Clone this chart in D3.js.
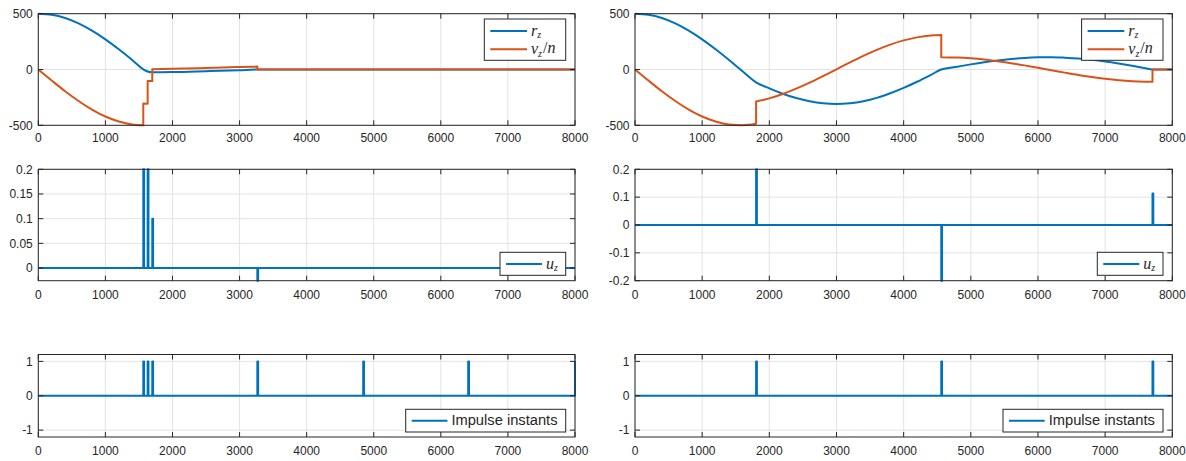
<!DOCTYPE html>
<html>
<head>
<meta charset="utf-8">
<script src="https://cdn.jsdelivr.net/npm/d3@7"></script>
<style>
  body { margin: 0; background: #fff; }
  text { font-family: "Liberation Sans", Arial, sans-serif; fill: #262626; }
</style>
</head>
<body>
<div id="chart"></div>
<script>
/**
 * CONSTANTS AND GLOBALS
 * */
const width = 1186,
  height = 461;

const blue = "#0072BD",
  orange = "#D95319",
  axisColor = "#262626",
  gridColor = "#e3e3e3";

const xTicks = [0, 1000, 2000, 3000, 4000, 5000, 6000, 7000, 8000];

/**
 * DATA
 * */
// left column: position r_z (continuous, with kinks)
const rzLeft = [[0, 500], [200, 490], [400, 461], [600, 413], [800, 348], [1000, 270], [1200, 181],
  [1400, 85], [1565, 2], [1630, -18], [1699, -25], [2000, -23], [2500, -15], [3000, -6], [3265, 0], [8000, 0]];

// left column: v_z/n, segments split at the jumps
const vzLeft = [
  [[0, 0], [200, -99], [400, -195], [600, -282], [800, -359], [1000, -421], [1200, -466], [1400, -493], [1565, -500]],
  [[1565, -305], [1630, -306]],
  [[1630, -103], [1699, -104]],
  [[1699, 3], [2000, 7], [2500, 14], [3000, 22], [3265, 26]],
  [[3265, 0], [8000, 0]]
];

// right column: r_z
const rzRight = [[0, 500], [200, 490], [400, 461], [600, 413], [800, 348], [1000, 270], [1200, 181],
  [1400, 85], [1600, -15], [1803, -115], [2000, -169], [2200, -217], [2400, -256], [2600, -285],
  [2800, -303], [3000, -309], [3200, -302], [3400, -284], [3600, -254], [3800, -213], [4000, -165],
  [4200, -110], [4400, -50], [4560, 0], [4800, 25], [5000, 46], [5200, 65], [5400, 81], [5600, 94],
  [5800, 104], [6000, 109], [6200, 110], [6400, 106], [6600, 99], [6800, 87], [7000, 72], [7200, 54],
  [7400, 34], [7600, 12], [7705, 0], [8000, 0]];

// right column: v_z/n
const vzRight = [
  [[0, 0], [200, -99], [400, -195], [600, -282], [800, -359], [1000, -421], [1200, -466], [1400, -493],
    [1600, -500], [1803, -487]],
  [[1803, -287], [2000, -259], [2200, -220], [2400, -172], [2600, -118], [2800, -59], [3000, 2],
    [3200, 63], [3400, 122], [3600, 176], [3800, 223], [4000, 261], [4200, 288], [4400, 305], [4560, 310]],
  [[4560, 110], [4800, 107], [5000, 100], [5200, 89], [5400, 74], [5600, 57], [5800, 37], [6000, 15],
    [6200, -6], [6400, -28], [6600, -49], [6800, -67], [7000, -83], [7200, -96], [7400, -105],
    [7600, -109], [7705, -110]],
  [[7705, 0], [8000, 0]]
];

// control impulses u_z
const uLeftT = [1565, 1630, 1699, 3265];
const uLeftV = [0.2, 0.2, 0.1, -0.0257];
const uRightT = [1803, 4560, 7705];
const uRightV = [0.2, -0.2, 0.113];

// impulse instants
const impLeftT = [1565, 1630, 1699, 3265, 4843, 6408, 8000];
const impRightT = [1803, 4560, 7705];

/**
 * LAYOUT
 * */
const cols = [{ x0: 38.3, x1: 575 }, { x0: 635, x1: 1172.3 }];
const rows = [
  { y0: 13.7, y1: 125.3, labelY: 141.7 },
  { y0: 169.3, y1: 280.7, labelY: 299 },
  { y0: 354.5, y1: 437, labelY: 455 }
];

const svg = d3.select("#chart")
  .append("svg")
  .attr("width", width)
  .attr("height", height);

svg.append("rect").attr("width", width).attr("height", height).attr("fill", "#fff");

/*** builds one axes box, returns the scales ***/
function panel(col, row, yDomain, yTicks) {
  const x = d3.scaleLinear().domain([0, 8000]).range([col.x0, col.x1]);
  const y = d3.scaleLinear().domain(yDomain).range([row.y1, row.y0]);
  const g = svg.append("g");

  // grid
  g.selectAll("line.gx").data(xTicks).join("line")
    .attr("x1", d => x(d)).attr("x2", d => x(d))
    .attr("y1", row.y0).attr("y2", row.y1)
    .attr("stroke", gridColor).attr("stroke-width", 1);
  g.selectAll("line.gy").data(yTicks).join("line")
    .attr("x1", col.x0).attr("x2", col.x1)
    .attr("y1", d => y(d)).attr("y2", d => y(d))
    .attr("stroke", gridColor).attr("stroke-width", 1);

  const plot = svg.append("g");
  const frame = svg.append("g");

  // box
  frame.append("rect")
    .attr("x", col.x0).attr("y", row.y0)
    .attr("width", col.x1 - col.x0).attr("height", row.y1 - row.y0)
    .attr("fill", "none").attr("stroke", axisColor).attr("stroke-width", 1);

  // inward ticks on all four sides
  const tl = 5;
  xTicks.forEach(t => {
    frame.append("line").attr("x1", x(t)).attr("x2", x(t)).attr("y1", row.y1).attr("y2", row.y1 - tl)
      .attr("stroke", axisColor);
    frame.append("line").attr("x1", x(t)).attr("x2", x(t)).attr("y1", row.y0).attr("y2", row.y0 + tl)
      .attr("stroke", axisColor);
    frame.append("text").attr("x", x(t)).attr("y", row.labelY)
      .attr("text-anchor", "middle").attr("font-size", 12).text(t);
  });
  yTicks.forEach(t => {
    frame.append("line").attr("x1", col.x0).attr("x2", col.x0 + tl).attr("y1", y(t)).attr("y2", y(t))
      .attr("stroke", axisColor);
    frame.append("line").attr("x1", col.x1).attr("x2", col.x1 - tl).attr("y1", y(t)).attr("y2", y(t))
      .attr("stroke", axisColor);
    frame.append("text").attr("x", col.x0 - 5.5).attr("y", y(t)).attr("dy", "0.36em")
      .attr("text-anchor", "end").attr("font-size", 12).text(String(t));
  });

  return { x, y, plot, frame };
}

/*** path of segments joined by vertical jumps ***/
function segmentPath(p, segs) {
  const line = d3.line().x(d => p.x(d[0])).y(d => p.y(d[1])).curve(d3.curveMonotoneX);
  return segs.map((s, i) => {
    const d = line(s);
    return i === 0 ? d : "L" + d.slice(1);
  }).join("");
}

/*** impulse train turned into a step series ***/
function impulseSeries(times, values) {
  const w = 12;
  const pts = [[0, 0]];
  times.forEach((t, i) => {
    const v = values ? values[i] : 1;
    pts.push([t, 0], [t, v], [Math.min(t + w, 8000), v], [Math.min(t + w, 8000), 0]);
  });
  pts.push([8000, 0]);
  return pts;
}

function drawLine(p, d, color) {
  p.plot.append("path").attr("d", d).attr("fill", "none")
    .attr("stroke", color).attr("stroke-width", 2).attr("stroke-linejoin", "round");
}

/*** legend ***/
function legend(p, box, entries) {
  const g = p.frame.append("g");
  g.append("rect").attr("x", box.x).attr("y", box.y).attr("width", box.w).attr("height", box.h)
    .attr("fill", "#fff").attr("stroke", axisColor).attr("stroke-width", 1);
  entries.forEach((e, i) => {
    const cy = box.y + box.first + i * box.step;
    g.append("line").attr("x1", box.x + 6).attr("x2", box.x + 6 + box.len).attr("y1", cy).attr("y2", cy)
      .attr("stroke", e.color).attr("stroke-width", 2);
    const t = g.append("text").attr("x", box.x + 10 + box.len).attr("y", cy).attr("dy", "0.3em");
    if (e.math) {
      t.style("font-family", "'Liberation Serif', 'DejaVu Serif', serif").style("font-size", "16px");
      e.math.forEach(part => {
        const ts = t.append("tspan").text(part.s);
        ts.style("font-style", part.it ? "italic" : "normal");
        if (part.sub) ts.style("font-size", "10px").attr("dy", "0.25em");
        if (part.up) ts.attr("dy", "-0.25em").attr("dx", "1");
      });
    } else {
      t.style("font-size", "14.7px").text(e.label);
    }
  });
}

const rLabel = [{ s: "r", it: true }, { s: "z", it: true, sub: true }];
const vLabel = [{ s: "v", it: true }, { s: "z", it: true, sub: true }, { s: "/", up: true }, { s: "n", it: true }];
const uLabel = [{ s: "u", it: true }, { s: "z", it: true, sub: true }];

/**
 * DRAW
 * */
[
  { col: cols[0], rz: rzLeft, vz: vzLeft, uT: uLeftT, uV: uLeftV, uDom: [d3.min(uLeftV), 0.2],
    uTicks: [0, 0.05, 0.1, 0.15, 0.2], imp: impLeftT },
  { col: cols[1], rz: rzRight, vz: vzRight, uT: uRightT, uV: uRightV, uDom: [-0.2, 0.2],
    uTicks: [-0.2, -0.1, 0, 0.1, 0.2], imp: impRightT }
].forEach(c => {
  // states
  const p1 = panel(c.col, rows[0], [-500, 500], [-500, 0, 500]);
  drawLine(p1, segmentPath(p1, [c.rz]), blue);
  drawLine(p1, segmentPath(p1, c.vz), orange);
  legend(p1, { x: c.col.x1 - 90.7, y: 19, w: 81.4, h: 41.3, first: 12, step: 18.3, len: 36.7 },
    [{ color: blue, math: rLabel }, { color: orange, math: vLabel }]);

  // control
  const p2 = panel(c.col, rows[1], c.uDom, c.uTicks);
  drawLine(p2, d3.line().x(d => p2.x(d[0])).y(d => p2.y(d[1]))(impulseSeries(c.uT, c.uV)), blue);
  legend(p2, { x: c.col.x1 - 75, y: 252.3, w: 65.7, h: 23, first: 11.7, step: 0, len: 36 },
    [{ color: blue, math: uLabel }]);

  // impulse instants
  const p3 = panel(c.col, rows[2], [-1.2, 1.2], [-1, 0, 1]);
  drawLine(p3, d3.line().x(d => p3.x(d[0])).y(d => p3.y(d[1]))(impulseSeries(c.imp)), blue);
  legend(p3, { x: c.col.x1 - 169.3, y: 409.3, w: 160, h: 22.7, first: 11.4, step: 0, len: 35.7 },
    [{ color: blue, label: "Impulse instants" }]);
});
</script>
</body>
</html>
